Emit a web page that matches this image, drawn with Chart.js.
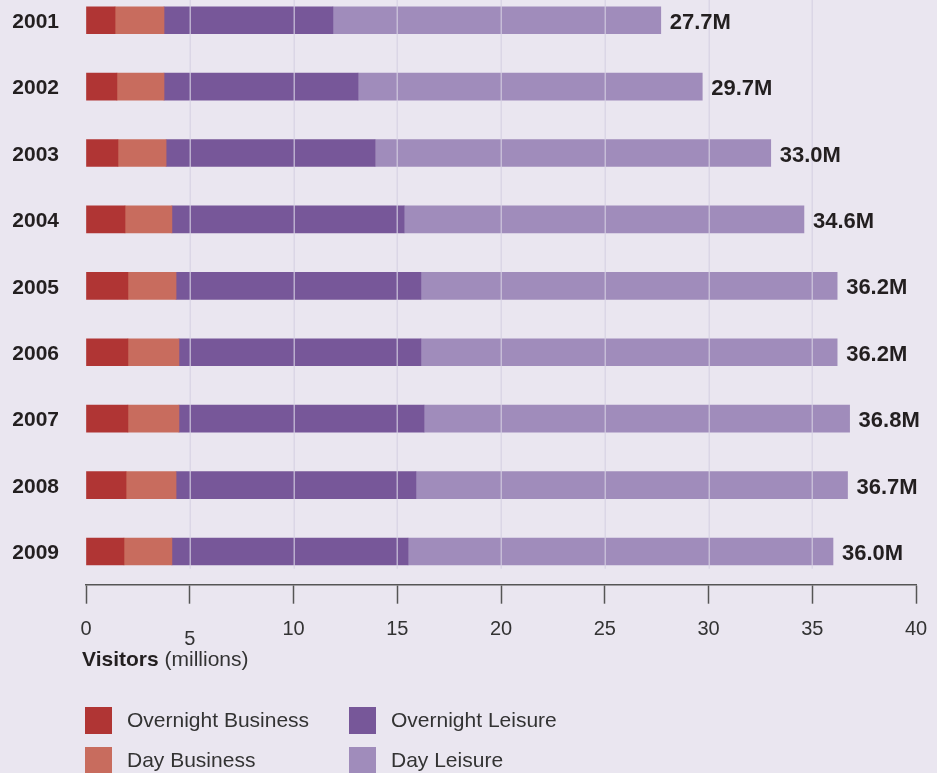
<!DOCTYPE html>
<html>
<head>
<meta charset="utf-8">
<title>Visitors by year</title>
<script src="https://cdn.jsdelivr.net/npm/chart.js@4"></script>
<style>
  html, body { margin: 0; padding: 0; background: #EAE6F0; overflow: hidden; }
  #wrap { position: absolute; left: 0; top: -13px; width: 937px; height: 786px; }
</style>
</head>
<body>
<div id="wrap"><canvas id="chart"></canvas></div>
<script>
// Visitors per year, millions, split by trip type
const years = ['2001', '2002', '2003', '2004', '2005', '2006', '2007', '2008', '2009'];
const overnightBusiness = [1.40, 1.49, 1.54, 1.88, 2.02, 2.02, 2.02, 1.93, 1.83];
const dayBusiness       = [2.36, 2.27, 2.32, 2.26, 2.32, 2.46, 2.46, 2.41, 2.31];
const overnightLeisure  = [8.14, 9.35, 10.07, 11.19, 11.80, 11.66, 11.81, 11.56, 11.38];
const dayLeisure        = [15.80, 16.59, 19.07, 19.27, 20.06, 20.06, 20.51, 20.80, 20.48];
const xTicks = [0, 5, 10, 15, 20, 25, 30, 35, 40];

const seriesNames  = ['Overnight Business', 'Day Business', 'Overnight Leisure', 'Day Leisure'];
const seriesColors = ['#B03534', '#C86C5E', '#775799', '#A08CBB'];
const seriesValues = [overnightBusiness, dayBusiness, overnightLeisure, dayLeisure];

const SANS = '"Liberation Sans", Arial, Helvetica, sans-serif';

// light vertical grid lines drawn over the bars, stopping short of the axis
const overlayGrid = {
  id: 'overlayGrid',
  afterDatasetsDraw(chart) {
    const { ctx, scales: { x } } = chart;
    const bottom = chart.chartArea.bottom - 16;
    ctx.save();
    ctx.strokeStyle = 'rgba(214, 208, 226, 0.72)';
    ctx.lineWidth = 1.5;
    xTicks.forEach(v => {
      if (v === 0 || v === 40) return;
      const px = Math.round(x.getPixelForValue(v)) + 0.25;
      ctx.beginPath();
      ctx.moveTo(px, 0);
      ctx.lineTo(px, bottom);
      ctx.stroke();
    });
    ctx.restore();
  }
};

// bold year labels left of the bars and totals at the bar ends
const barLabels = {
  id: 'barLabels',
  afterDatasetsDraw(chart) {
    const { ctx, scales: { y } } = chart;
    const meta = chart.getDatasetMeta(seriesValues.length - 1);
    ctx.save();
    ctx.fillStyle = '#231F20';
    ctx.textBaseline = 'middle';

    ctx.font = 'bold 21px ' + SANS;
    ctx.textAlign = 'right';
    years.forEach((label, i) => {
      ctx.fillText(label, chart.chartArea.left - 27, y.getPixelForTick(i) + 2);
    });

    ctx.font = 'bold 22px ' + SANS;
    ctx.textAlign = 'left';
    years.forEach((label, i) => {
      const total = seriesValues.reduce((s, arr) => s + arr[i], 0);
      const el = meta.data[i];
      ctx.fillText(total.toFixed(1) + 'M', el.x + 9, el.y + 2.5);
    });
    ctx.restore();
  }
};

// axis title and two-column legend below the plot
const footer = {
  id: 'footer',
  afterDraw(chart) {
    const { ctx } = chart;
    const top = 13; // page offset of the canvas
    ctx.save();
    ctx.textBaseline = 'middle';
    ctx.textAlign = 'left';
    ctx.fillStyle = '#231F20';
    ctx.font = 'bold 21px ' + SANS;
    const t1 = 'Visitors';
    ctx.fillText(t1, 82, 660 + top);
    const w1 = ctx.measureText(t1 + ' ').width;
    ctx.font = '21px ' + SANS;
    ctx.fillStyle = '#333333';
    ctx.fillText('(millions)', 82 + w1, 660 + top);

    const cols = [85, 349];
    const rows = [707, 747];
    ctx.font = '21px ' + SANS;
    seriesNames.forEach((name, i) => {
      const cx = cols[Math.floor(i / 2)];
      const cy = rows[i % 2] + top;
      ctx.fillStyle = seriesColors[i];
      ctx.fillRect(cx, cy, 27, 27);
      ctx.fillStyle = '#333333';
      ctx.fillText(name, cx + 42, cy + 14);
    });
    ctx.restore();
  }
};

new Chart(document.getElementById('chart'), {
  type: 'bar',
  data: {
    labels: years,
    datasets: seriesValues.map((vals, i) => ({
      label: seriesNames[i],
      data: vals,
      backgroundColor: seriesColors[i],
      borderWidth: 0,
      barThickness: 27
    }))
  },
  options: {
    indexAxis: 'y',
    responsive: true,
    maintainAspectRatio: false,
    animation: false,
    layout: { padding: { left: 0, right: 21, top: 0, bottom: 106 } },
    plugins: { legend: { display: false }, tooltip: { enabled: false } },
    scales: {
      x: {
        type: 'linear',
        stacked: true,
        min: 0,
        max: 40,
        afterBuildTicks(scale) { scale.ticks = xTicks.map(v => ({ value: v })); },
        afterFit(scale) {
          scale.height = 82.3;
          scale.paddingLeft = 0;
          scale.paddingRight = 0;
        },
        grid: {
          display: true,
          drawOnChartArea: false,
          drawTicks: true,
          tickLength: 19,
          tickColor: '#555555',
          tickWidth: 1.5
        },
        border: { display: true, color: '#555555', width: 1.5 },
        ticks: {
          padding: 14,
          color: '#333333',
          maxRotation: 0,
          autoSkip: false,
          font: (c) => ({
            family: SANS,
            size: 20,
            lineHeight: (c.tick && c.tick.value === 5) ? '44px' : '24px'
          })
        }
      },
      y: {
        stacked: true,
        offset: true,
        afterFit(scale) {
          scale.width = 86;
          scale.paddingTop = 0;
          scale.paddingBottom = 0;
        },
        grid: { display: false, drawTicks: false },
        border: { display: false },
        ticks: { display: false }
      }
    }
  },
  plugins: [overlayGrid, barLabels, footer]
});
</script>
</body>
</html>
